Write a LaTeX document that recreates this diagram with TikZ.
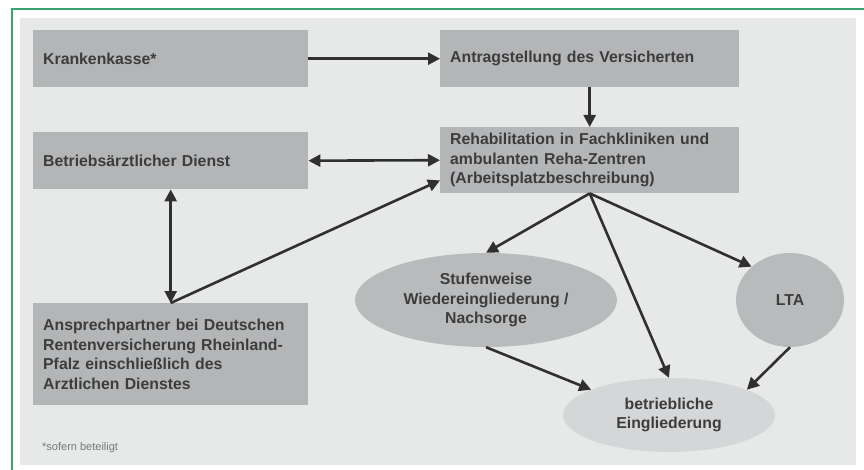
\documentclass[tikz,border=0pt]{standalone}
\usepackage{fontspec}
\setmainfont{Liberation Sans}
\usetikzlibrary{arrows.meta,shapes.geometric}
\definecolor{panel}{HTML}{E7E9E9}
\definecolor{boxgray}{HTML}{B3B5B7}
\definecolor{ellgray}{HTML}{B8BABB}
\definecolor{ellight}{HTML}{D4D6D8}
\definecolor{txt}{HTML}{3C3C3C}
\definecolor{arr}{HTML}{303030}
\definecolor{frame}{HTML}{3DA36C}
\tikzset{
  boxnode/.style={draw=none, fill=boxgray, rectangle, anchor=north west,
    inner xsep=10pt, inner ysep=0pt, align=left, text=txt,
    font=\fontsize{15.8}{19.6}\selectfont\bfseries},
  ellnode/.style={ellipse, draw=none, inner sep=0pt, align=center, text=txt,
    font=\fontsize{15.8}{19.6}\selectfont\bfseries},
  conn/.style={draw=arr, line width=2.6pt, -{Triangle[length=12pt,width=12pt]}},
  dconn/.style={draw=arr, line width=2.6pt, {Triangle[length=12pt,width=12pt]}-{Triangle[length=12pt,width=12pt]}}
}
\begin{document}
\begin{tikzpicture}[x=1pt,y=-1pt]
\useasboundingbox (0,0) rectangle (864,470);
\fill[white] (0,0) rectangle (864,470);
\fill[panel] (20,18) rectangle (856,465);
\draw[frame, line width=1.5pt] (12,470) -- (12,9) -- (864,9);

\node[boxnode, minimum width=271pt, minimum height=57pt, text width=255pt] (kk) at (33,30) {Krankenkasse*};
\node[boxnode, minimum width=295pt, minimum height=57pt, text width=279pt] (an) at (440,30) {Antragstellung des Versicherten};
\node[boxnode, minimum width=271pt, minimum height=57pt, text width=255pt] (bd) at (33,132) {Betriebsärztlicher Dienst};
\node[boxnode, minimum width=295pt, minimum height=66pt, text width=279pt] (re) at (440,127) {Rehabilitation in Fachkliniken und\\ambulanten Reha-Zentren\\(Arbeitsplatzbeschreibung)};
\node[boxnode, minimum width=271pt, minimum height=102pt, text width=255pt] (ap) at (33,303) {Ansprechpartner bei Deutschen\\Rentenversicherung Rheinland-\\Pfalz einschließlich des\\Arztlichen Dienstes};

\node[ellnode, fill=ellgray, minimum width=262pt, minimum height=94pt] (sw) at (486,300) {Stufenweise\\Wiedereingliederung /\\Nachsorge};
\node[ellnode, fill=ellgray, minimum width=108pt, minimum height=94pt] (lta) at (790,300) {LTA};
\node[ellnode, fill=ellight, minimum width=212pt, minimum height=74pt] (be) at (669,415) {betriebliche\\Eingliederung};

\node[anchor=west, text=txt!70, font=\fontsize{11}{12}\selectfont, inner sep=0pt] (fn) at (42,448) {*sofern beteiligt};

\draw[conn] (kk.east) -- (an.west);
\draw[conn] (an.south) -- (re.north);
\draw[dconn] (bd.east) -- (re.west);
\draw[dconn] (bd.south) -- (ap.north);
\draw[conn] (ap.north) -- ([yshift=13pt]re.south west);
\draw[conn] (re.south) -- (sw.north);
\draw[conn] (re.south) -- (be.north);
\draw[conn] (re.south) -- (lta.139);
\draw[conn] (sw.south) -- (be.162);
\draw[conn] (lta.south) -- (be.18);
\end{tikzpicture}
\end{document}
